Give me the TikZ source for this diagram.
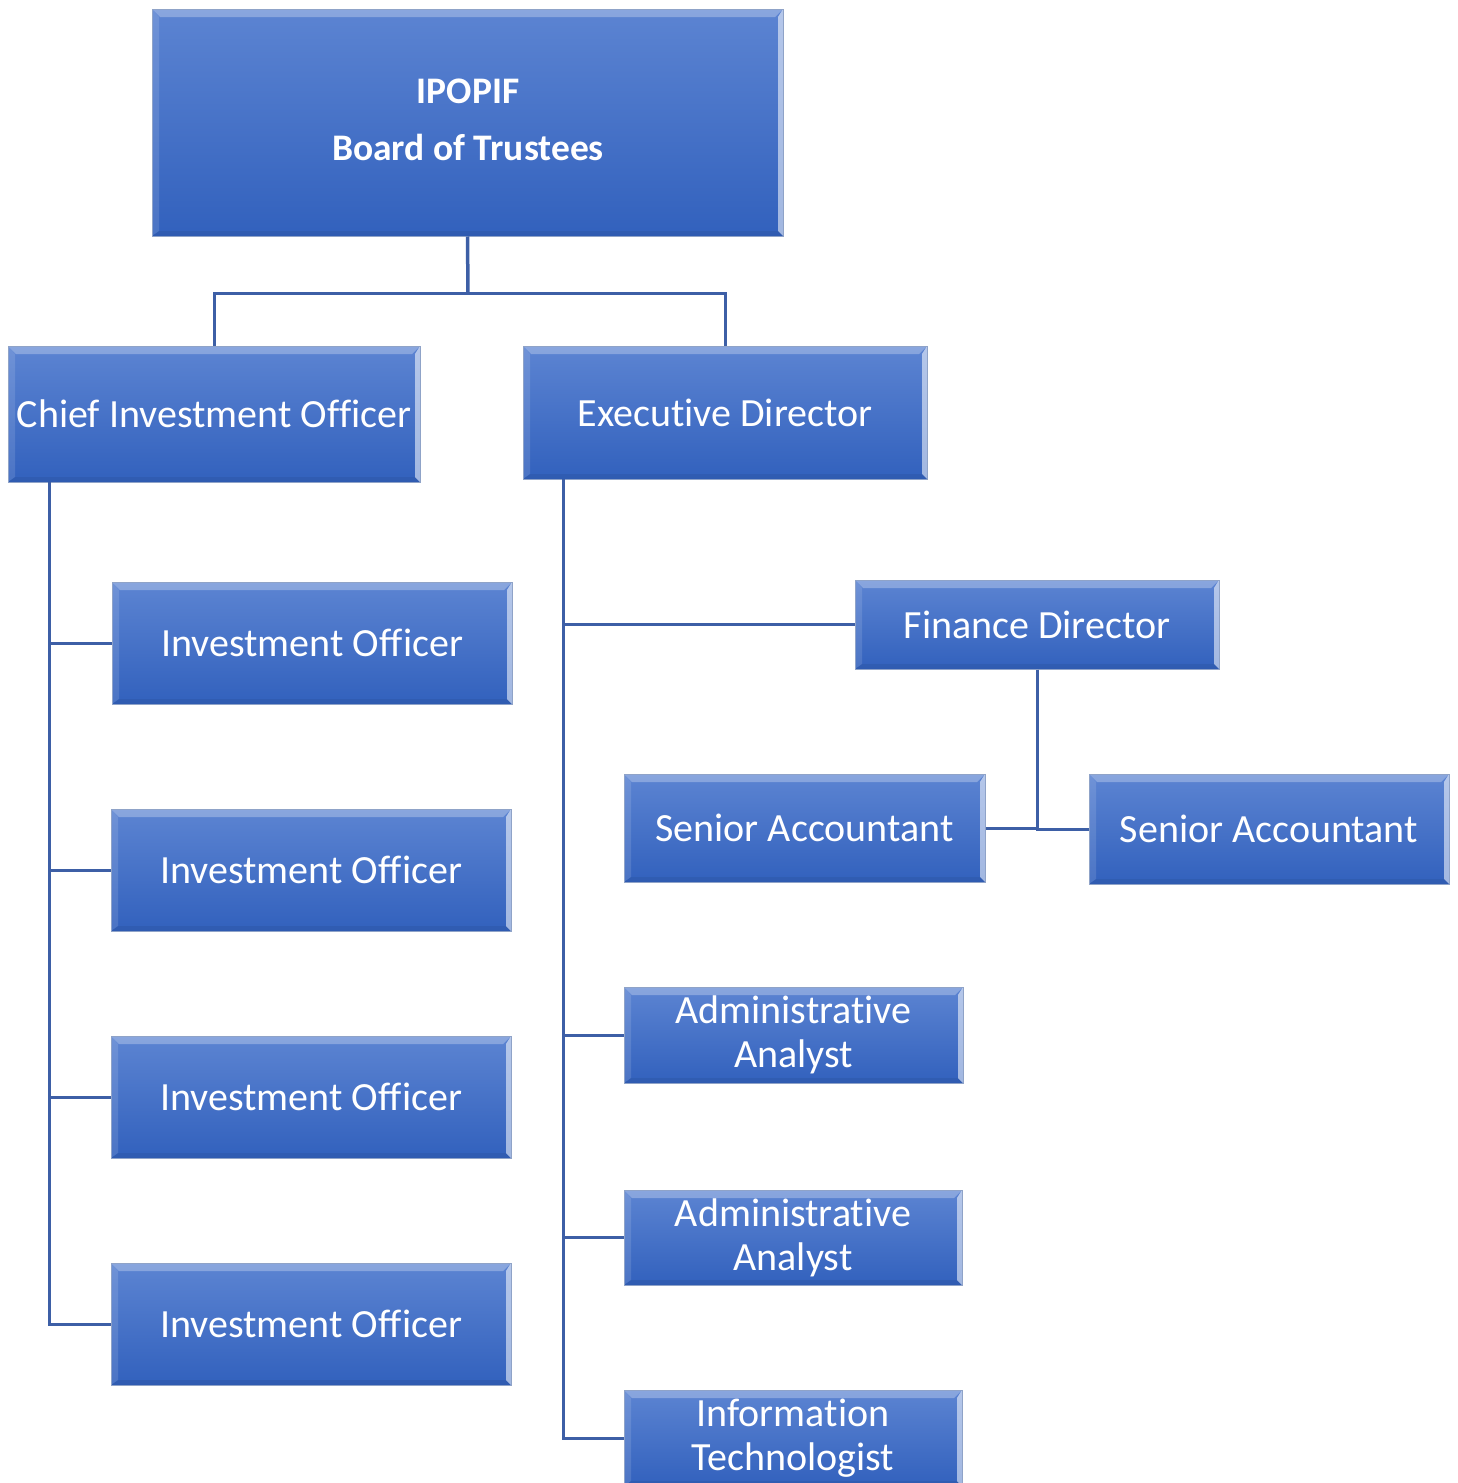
\documentclass[tikz,border=0pt]{standalone}
\usepackage{fontspec}
\setmainfont{Carlito}[RawFeature={-liga;-clig;-calt;-dlig}]
\usetikzlibrary{calc}
\definecolor{boxtop}{HTML}{5C84D2}
\definecolor{boxbot}{HTML}{3261BD}
\definecolor{boxedge}{HTML}{8FA3C8}
\definecolor{conn}{HTML}{3D5FA6}
\tikzset{
  x=1pt,y=-1pt,
  orgbox/.style={rectangle, draw=boxedge, line width=1pt, top color=boxtop, bottom color=boxbot,
    text=white, align=center, inner sep=0pt, font=\fontsize{40}{44}\selectfont,
    path picture={
      \fill[white,opacity=0.28] (path picture bounding box.north west) -- (path picture bounding box.north east)
        -- ($(path picture bounding box.north east)+(-8,8)$) -- ($(path picture bounding box.north west)+(8,8)$) -- cycle;
      \fill[white,opacity=0.55] (path picture bounding box.north east) -- (path picture bounding box.south east)
        -- ($(path picture bounding box.south east)+(-5,-5)$) -- ($(path picture bounding box.north east)+(-5,8)$) -- cycle;
      \fill[white,opacity=0.12] (path picture bounding box.north west) -- (path picture bounding box.south west)
        -- ($(path picture bounding box.south west)+(7,-5)$) -- ($(path picture bounding box.north west)+(7,8)$) -- cycle;
      \fill[black,opacity=0.06] (path picture bounding box.south west) -- (path picture bounding box.south east)
        -- ($(path picture bounding box.south east)+(-5,-5)$) -- ($(path picture bounding box.south west)+(7,-5)$) -- cycle;
    }},
  boxlabel/.style={text=white, align=center, inner sep=0pt, font=\fontsize{37.5}{57}\selectfont\bfseries},
  connline/.style={draw=conn, line width=3pt},
}
\begin{document}
\begin{tikzpicture}
\useasboundingbox (0,0) rectangle (1458,1483);
\node[orgbox, minimum width=631, minimum height=227] (board) at (467.5,122.5) {};
\node[boxlabel] (boardlbl) at (468,119.5) {IPOPIF\\Board of Trustees};
\node[orgbox, minimum width=412, minimum height=136] (cio) at (214,414) {Chief Investment Officer};
\node[orgbox, minimum width=404, minimum height=133] (ed) at (725,412.5) {Executive Director};
\node[orgbox, minimum width=400, minimum height=122] (io1) at (312,643) {Investment Officer};
\node[orgbox, minimum width=400, minimum height=122] (io2) at (311,870) {Investment Officer};
\node[orgbox, minimum width=400, minimum height=122] (io3) at (311,1097) {Investment Officer};
\node[orgbox, minimum width=400, minimum height=122] (io4) at (311,1324) {Investment Officer};
\node[orgbox, minimum width=364, minimum height=89] (fd) at (1037,624.5) {Finance Director};
\node[orgbox, minimum width=361, minimum height=108] (sa1) at (804.5,828) {Senior Accountant};
\node[orgbox, minimum width=360, minimum height=110] (sa2) at (1269,829) {Senior Accountant};
\node[orgbox, minimum width=339, minimum height=96] (aa1) at (793.5,1035) {Administrative\\Analyst};
\node[orgbox, minimum width=338, minimum height=95] (aa2) at (793,1237.5) {Administrative\\Analyst};
\node[orgbox, minimum width=338, minimum height=96] (it) at (793,1438) {Information\\Technologist};
\coordinate (split) at (468,293);
\draw[connline, line width=3.5pt] (board.south) -- (split);
\draw[connline] (split) -| (cio.north);
\draw[connline] (split) -| (ed.north);
\coordinate (cs) at (49,482);
\draw[connline] (cs) |- (io1.west);
\draw[connline] (cs) |- (io2.west);
\draw[connline] (cs) |- (io3.west);
\draw[connline] (cs) |- (io4.west);
\coordinate (es) at (563,479);
\draw[connline] (es) |- (fd.west);
\draw[connline] (es) |- (aa1.west);
\draw[connline] (es) |- (aa2.west);
\draw[connline] (es) |- (it.west);
\draw[connline] (fd.south) |- (sa1.east);
\draw[connline] (fd.south) |- (sa2.west);
\end{tikzpicture}
\end{document}
